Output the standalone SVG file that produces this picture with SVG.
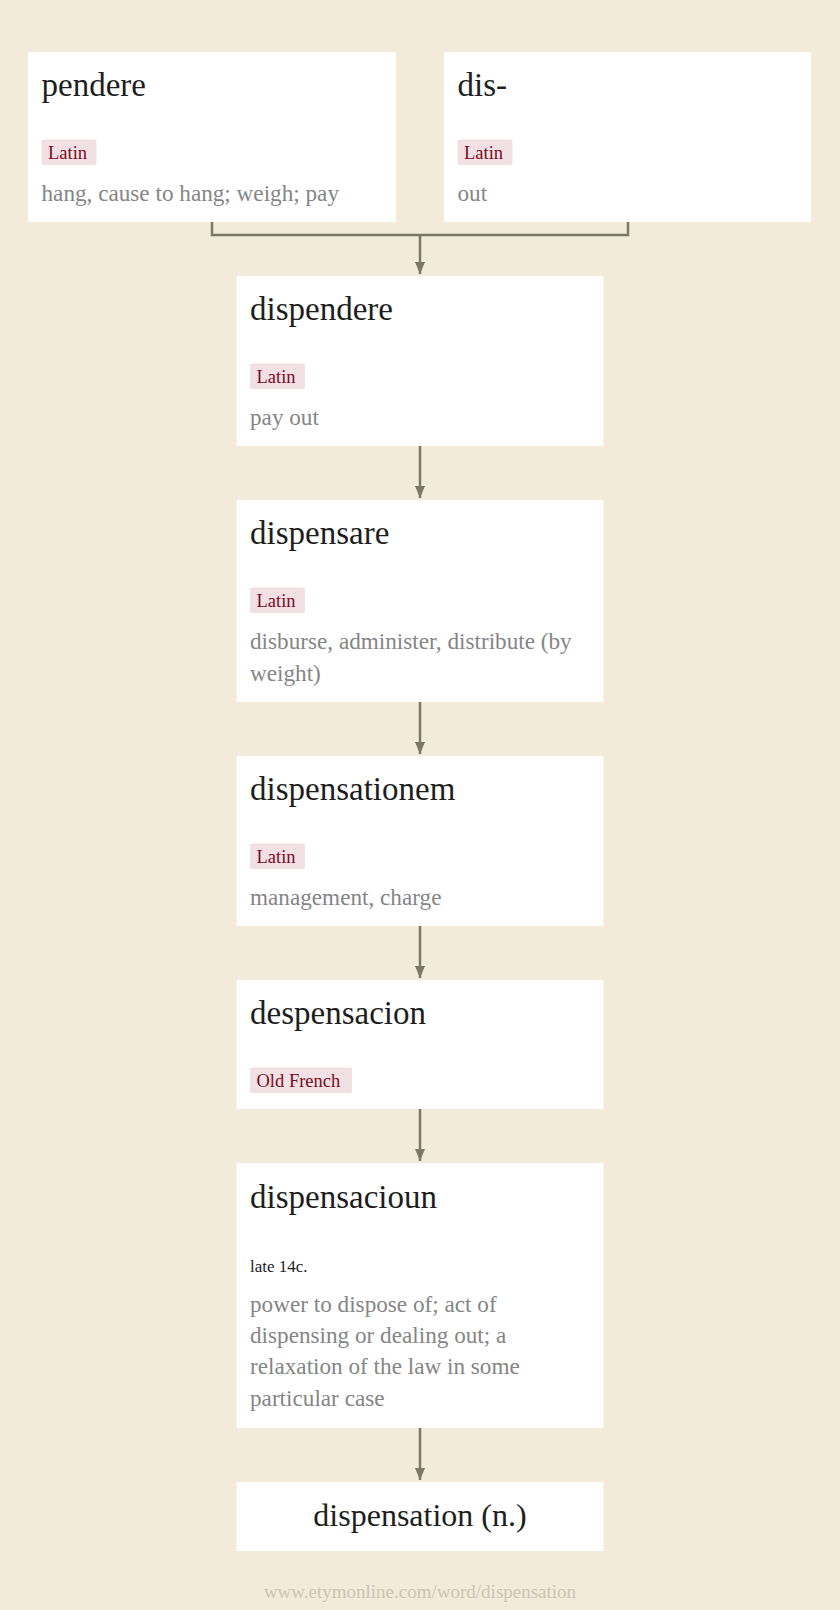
<svg xmlns="http://www.w3.org/2000/svg" width="840" height="1610" viewBox="0 0 840 1610">
<defs>
<style>
.bg{fill:#f2ebda}
.box{fill:#ffffff}
.title{font-family:"Liberation Serif","DejaVu Serif",serif;font-size:33px;fill:#1e1e1e}
.tag{fill:#f1e1e4}
.tagt{font-family:"Liberation Serif","DejaVu Serif",serif;font-size:18.5px;fill:#7c0a24}
.gloss{font-family:"Liberation Serif","DejaVu Serif",serif;font-size:23.2px;fill:#858585}
.date{font-family:"Liberation Serif","DejaVu Serif",serif;font-size:17px;fill:#1e1e1e}
.final{font-family:"Liberation Serif","DejaVu Serif",serif;font-size:32px;fill:#1e1e1e}
.foot{font-family:"Liberation Serif","DejaVu Serif",serif;font-size:19px;fill:#cdc5b2}
.con{fill:none;stroke:#7d7766;stroke-width:2.5}
</style>
<marker id="ah" markerUnits="userSpaceOnUse" markerWidth="12" markerHeight="12" viewBox="0 0 12 12" refX="12" refY="6" orient="auto">
<path d="M0,1 L12,6 L0,11 Z" fill="#7d7766"/>
</marker>
</defs>
<rect class="bg" x="0" y="0" width="840" height="1610"/>

<g id="connectors">
<path class="con" d="M212,222 V235 H628 V222"/>
<path class="con" d="M420,235 V274" marker-end="url(#ah)"/>
<path class="con" d="M420,446 V498" marker-end="url(#ah)"/>
<path class="con" d="M420,702 V754" marker-end="url(#ah)"/>
<path class="con" d="M420,926 V978" marker-end="url(#ah)"/>
<path class="con" d="M420,1109 V1161" marker-end="url(#ah)"/>
<path class="con" d="M420,1428 V1480" marker-end="url(#ah)"/>
</g>

<g id="node-pendere">
<rect class="box" x="28" y="52" width="368" height="170"/>
<text class="title" x="41.5" y="96">pendere</text>
<rect class="tag" x="41.5" y="139.5" width="55" height="25.5" rx="2"/>
<text class="tagt" x="48" y="158.5">Latin</text>
<text class="gloss" x="41.5" y="200.5">hang, cause to hang; weigh; pay</text>
</g>

<g id="node-dis">
<rect class="box" x="444" y="52" width="367" height="170"/>
<text class="title" x="457.5" y="96">dis-</text>
<rect class="tag" x="457.5" y="139.5" width="55" height="25.5" rx="2"/>
<text class="tagt" x="464" y="158.5">Latin</text>
<text class="gloss" x="457.5" y="200.5">out</text>
</g>

<g id="node-dispendere">
<rect class="box" x="236.5" y="276" width="367" height="170"/>
<text class="title" x="250" y="320">dispendere</text>
<rect class="tag" x="250" y="363.5" width="55" height="25.5" rx="2"/>
<text class="tagt" x="256.5" y="382.5">Latin</text>
<text class="gloss" x="250" y="424.5">pay out</text>
</g>

<g id="node-dispensare">
<rect class="box" x="236.5" y="500" width="367" height="202"/>
<text class="title" x="250" y="544">dispensare</text>
<rect class="tag" x="250" y="587.5" width="55" height="25.5" rx="2"/>
<text class="tagt" x="256.5" y="606.5">Latin</text>
<text class="gloss" x="250" y="649">disburse, administer, distribute (by</text>
<text class="gloss" x="250" y="680.5">weight)</text>
</g>

<g id="node-dispensationem">
<rect class="box" x="236.5" y="756" width="367" height="170"/>
<text class="title" x="250" y="800">dispensationem</text>
<rect class="tag" x="250" y="843.5" width="55" height="25.5" rx="2"/>
<text class="tagt" x="256.5" y="862.5">Latin</text>
<text class="gloss" x="250" y="904.5">management, charge</text>
</g>

<g id="node-despensacion">
<rect class="box" x="236.5" y="980" width="367" height="129"/>
<text class="title" x="250" y="1024">despensacion</text>
<rect class="tag" x="250" y="1067.5" width="102" height="25.5" rx="2"/>
<text class="tagt" x="256.5" y="1086.5">Old French</text>
</g>

<g id="node-dispensacioun">
<rect class="box" x="236.5" y="1163" width="367" height="265"/>
<text class="title" x="250" y="1208">dispensacioun</text>
<text class="date" x="250" y="1271.5">late 14c.</text>
<text class="gloss" x="250" y="1312">power to dispose of; act of</text>
<text class="gloss" x="250" y="1343">dispensing or dealing out; a</text>
<text class="gloss" x="250" y="1374">relaxation of the law in some</text>
<text class="gloss" x="250" y="1405.5">particular case</text>
</g>

<g id="node-dispensation">
<rect class="box" x="236.5" y="1482" width="367" height="69"/>
<text class="final" x="420" y="1525.5" text-anchor="middle">dispensation (n.)</text>
</g>

<text class="foot" x="420" y="1598" text-anchor="middle">www.etymonline.com/word/dispensation</text>
</svg>
